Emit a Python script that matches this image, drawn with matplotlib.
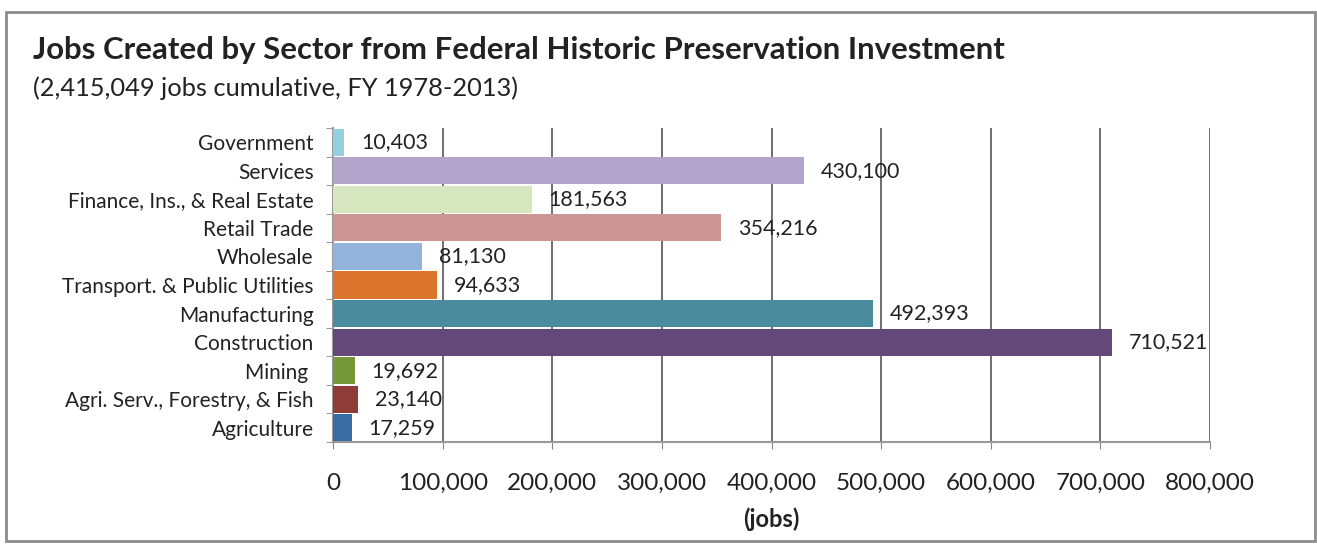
import matplotlib
matplotlib.use("Agg")
import matplotlib.pyplot as plt
from matplotlib.patches import Rectangle
from matplotlib.ticker import FuncFormatter

plt.rcParams['font.family'] = ['Lato', 'DejaVu Sans']

# Jobs created per sector, listed bottom to top
sectors = [
    "Agriculture",
    "Agri. Serv., Forestry, & Fish",
    "Mining ",
    "Construction",
    "Manufacturing",
    "Transport. & Public Utilities",
    "Wholesale",
    "Retail Trade",
    "Finance, Ins., & Real Estate",
    "Services",
    "Government",
]
jobs = [17259, 23140, 19692, 710521, 492393, 94633, 81130, 354216, 181563, 430100, 10403]
bar_colors = [
    "#3A6CA3", "#8F3C37", "#76963A", "#65487A", "#4A8C9E", "#DB742C",
    "#93B2DC", "#CE9595", "#D6E6BF", "#B2A4CB", "#93CFDE",
]
x_ticks = list(range(0, 800001, 100000))

W, H = 1317, 546
fig = plt.figure(figsize=(W / 100, H / 100), dpi=100)
ax = fig.add_axes([333 / W, 1 - 442 / H, (1210 - 333) / W, (442 - 128) / H])

ypos = list(range(len(sectors)))
ax.barh(ypos, jobs, height=0.95, color=bar_colors, zorder=3)

for y, v in zip(ypos, jobs):
    ax.annotate(f"{v:,}", (v, y), xytext=(12, 0), textcoords="offset points",
                va="center", ha="left", fontsize=15.5, color="#222222", zorder=4)

ax.set_xlim(0, 800000)
ax.set_ylim(-0.5, len(sectors) - 0.5)
ax.set_xticks(x_ticks)
ax.xaxis.set_major_formatter(FuncFormatter(lambda v, p: f"{int(v):,}"))
ax.set_yticks(ypos)
ax.set_yticklabels(sectors)
ax.set_yticks([i - 0.5 for i in range(len(sectors) + 1)], minor=True)

ax.tick_params(axis="y", which="major", length=0, pad=14, labelsize=15, labelcolor="#222222")
ax.tick_params(axis="y", which="minor", length=5, color="#888888", direction="out")
ax.tick_params(axis="x", length=5, color="#888888", direction="out", pad=17,
               labelsize=17.5, labelcolor="#222222")

ax.grid(axis="x", color="#555555", linewidth=1.2, zorder=1)
for side in ("top", "right"):
    ax.spines[side].set_visible(False)
for side in ("left", "bottom"):
    ax.spines[side].set_color("#999999")
    ax.spines[side].set_linewidth(1.5)

ax.set_xlabel("(jobs)", fontsize=17, fontweight="bold", color="#222222", labelpad=10)

fig.text(33 / W, 1 - 50 / H, "Jobs Created by Sector from Federal Historic Preservation Investment",
         fontsize=22.4, fontweight="bold", color="#222222", va="center", ha="left")
fig.text(33 / W, 1 - 88 / H, "(2,415,049 jobs cumulative, FY 1978-2013)",
         fontsize=18.3, color="#222222", va="center", ha="left")

# outer frame around the whole chart
fig.patches.append(Rectangle((6 / W, 1 - 541 / H), (1315 - 6) / W, (541 - 12) / H,
                             transform=fig.transFigure, fill=False,
                             edgecolor="#8c8c8c", linewidth=2))

fig.savefig("out.png", dpi=100, facecolor="white")
